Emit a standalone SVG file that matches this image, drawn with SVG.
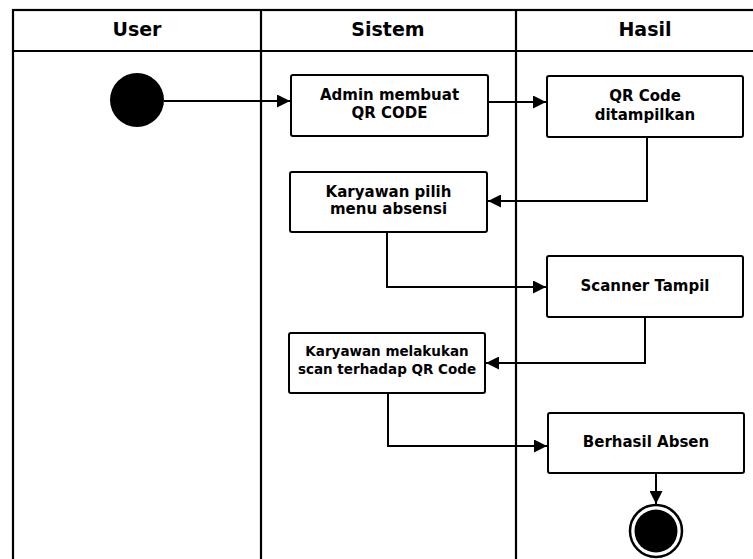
<svg xmlns="http://www.w3.org/2000/svg" width="753" height="559" viewBox="0 0 753 559">
  <defs>
    <marker id="arrow" viewBox="0 0 13 13" refX="13" refY="6.5" markerWidth="13" markerHeight="13" markerUnits="userSpaceOnUse" orient="auto">
      <path d="M0,0 L13,6.5 L0,13 Z" fill="#000"/>
    </marker>
    <style>
      .lane { fill: none; stroke: #000; stroke-width: 2.2; }
      .head { font-family: "DejaVu Sans", sans-serif; font-weight: bold; font-size: 19px; text-anchor: middle; fill: #000; }
      .act rect { fill: #fff; stroke: #000; stroke-width: 2; }
      .act text { font-family: "DejaVu Sans", sans-serif; font-weight: bold; font-size: 15px; text-anchor: middle; fill: #000; }
      .act text.small { font-size: 13.5px; }
      .flow { fill: none; stroke: #000; stroke-width: 2; marker-end: url(#arrow); }
    </style>
  </defs>

  <rect width="753" height="559" fill="#fff"/>

  <!-- swimlane frame -->
  <g id="lanes">
    <rect class="lane" x="13" y="10" width="770" height="600"/>
    <line class="lane" x1="13" y1="51" x2="783" y2="51"/>
    <line class="lane" x1="261" y1="10" x2="261" y2="610"/>
    <line class="lane" x1="516" y1="10" x2="516" y2="610"/>
    <text class="head" x="137" y="36">User</text>
    <text class="head" x="388" y="36">Sistem</text>
    <text class="head" x="645" y="36">Hasil</text>
  </g>

  <!-- connectors -->
  <g id="connectors">
    <path class="flow" d="M164,101 H290"/>
    <path class="flow" d="M488,102 H546"/>
    <path class="flow" d="M647,137 V201 H488"/>
    <path class="flow" d="M387,232 V287 H546"/>
    <path class="flow" d="M645,317 V363 H486"/>
    <path class="flow" d="M388,393 V446 H547"/>
    <path class="flow" d="M656,473 V504"/>
  </g>

  <g id="start">
    <circle cx="137" cy="100" r="27" fill="#000"/>
  </g>

  <g id="n1" class="act">
    <rect x="291" y="75" width="197" height="61" rx="2"/>
    <text x="389.5" y="100">Admin membuat</text>
    <text x="389.5" y="118">QR CODE</text>
  </g>

  <g id="n2" class="act">
    <rect x="547" y="76" width="196" height="61" rx="2"/>
    <text x="645" y="101">QR Code</text>
    <text x="645" y="120">ditampilkan</text>
  </g>

  <g id="n3" class="act">
    <rect x="290" y="172" width="197" height="60" rx="2"/>
    <text x="388.5" y="197">Karyawan pilih</text>
    <text x="388.5" y="214">menu absensi</text>
  </g>

  <g id="n4" class="act">
    <rect x="547" y="256" width="196" height="61" rx="2"/>
    <text x="645" y="291">Scanner Tampil</text>
  </g>

  <g id="n5" class="act">
    <rect x="289" y="333" width="196" height="60" rx="2"/>
    <text class="small" x="387" y="356">Karyawan melakukan</text>
    <text class="small" x="387" y="374">scan terhadap QR Code</text>
  </g>

  <g id="n6" class="act">
    <rect x="548" y="413" width="196" height="60" rx="2"/>
    <text x="646" y="447">Berhasil Absen</text>
  </g>

  <g id="end">
    <circle cx="656" cy="531" r="26" fill="#fff" stroke="#000" stroke-width="2.5"/>
    <circle cx="656" cy="531" r="21.5" fill="#000"/>
  </g>
</svg>
